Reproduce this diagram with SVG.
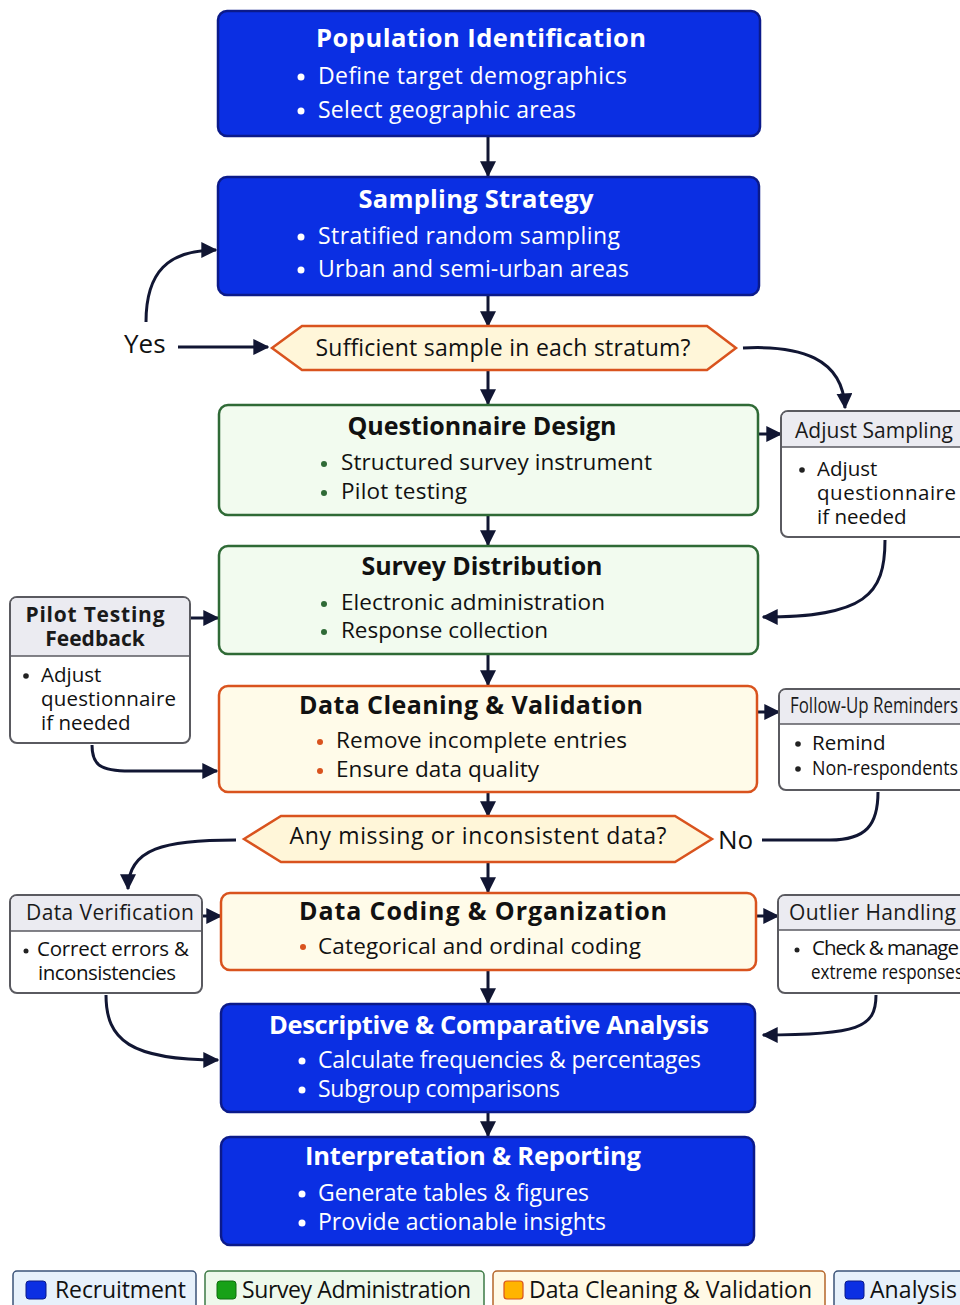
<svg xmlns="http://www.w3.org/2000/svg" width="960" height="1305" viewBox="0 0 960 1305">
  <defs>
    <style>
      text { font-family: "Open Sans", "Noto Sans", "Liberation Sans", sans-serif; }
      .blue { fill: #0b2fe3; stroke: #0b1a8a; stroke-width: 2.5; }
      .green { fill: #f2fbef; stroke: #2f6a36; stroke-width: 2.5; }
      .cream { fill: #fffbe9; stroke: #d9531e; stroke-width: 2.5; }
      .dec { fill: #fff6d9; stroke: #d9531e; stroke-width: 2.5; }
      .side { fill: #ffffff; stroke: #5a5a60; stroke-width: 2; }
      .sidehead { fill: #ebebf1; }
      .sep { stroke: #5a5a60; stroke-width: 1.5; }
      .wt { fill: #ffffff; font-size: 25.5px; font-weight: 700; text-anchor: middle; }
      .wb { fill: #ffffff; font-size: 23px; }
      .dt { fill: #111111; font-size: 25px; font-weight: 700; text-anchor: middle; }
      .db { fill: #111111; font-size: 22.5px; }
      .dq { fill: #111111; font-size: 23px; text-anchor: middle; }
      .sh { fill: #1a1a1a; font-size: 21px; }
      .sb { fill: #111111; font-size: 20.5px; }
      .lab { fill: #111111; font-size: 26px; }
      .dotw { fill: #ffffff; }
      .dotg { fill: #2f6a36; }
      .doto { fill: #d9531e; }
      .dotk { fill: #222222; }
      .conn { fill: none; stroke: #111633; stroke-width: 3; }
      .leg { font-size: 23px; fill: #111111; }
    </style>
    <marker id="ah" viewBox="0 0 12 12" refX="11" refY="6" markerWidth="16" markerHeight="16" markerUnits="userSpaceOnUse" orient="auto">
      <path d="M0,0 L12,6 L0,12 z" fill="#111633"/>
    </marker>
  </defs>

  <rect width="960" height="1305" fill="#ffffff"/>

  <!-- connectors -->
  <g id="connectors">
    <line class="conn" x1="488" y1="136" x2="488" y2="176" marker-end="url(#ah)"/>
    <line class="conn" x1="488" y1="295" x2="488" y2="326" marker-end="url(#ah)"/>
    <line class="conn" x1="488" y1="370" x2="488" y2="404" marker-end="url(#ah)"/>
    <line class="conn" x1="488" y1="515" x2="488" y2="545" marker-end="url(#ah)"/>
    <line class="conn" x1="488" y1="654" x2="488" y2="685" marker-end="url(#ah)"/>
    <line class="conn" x1="488" y1="792" x2="488" y2="816" marker-end="url(#ah)"/>
    <line class="conn" x1="488" y1="862" x2="488" y2="892" marker-end="url(#ah)"/>
    <line class="conn" x1="488" y1="970" x2="488" y2="1003" marker-end="url(#ah)"/>
    <line class="conn" x1="488" y1="1112" x2="488" y2="1136" marker-end="url(#ah)"/>
    <!-- Yes branch back to sampling -->
    <line class="conn" x1="178" y1="347" x2="268" y2="347" marker-end="url(#ah)"/>
    <path class="conn" d="M146,322 C146,272 168,250 216,250" marker-end="url(#ah)"/>
    <!-- to Adjust Sampling -->
    <path class="conn" d="M743,348 C800,345 843,358 845,408" marker-end="url(#ah)"/>
    <line class="conn" x1="758" y1="434" x2="781" y2="434" marker-end="url(#ah)"/>
    <path class="conn" d="M885,540 C885,595 865,617 763,617" marker-end="url(#ah)"/>
    <!-- Pilot Testing Feedback -->
    <line class="conn" x1="190" y1="618" x2="218" y2="618" marker-end="url(#ah)"/>
    <path class="conn" d="M92,745 C92,765 100,771 130,771 L217,771" marker-end="url(#ah)"/>
    <!-- Follow-Up Reminders -->
    <line class="conn" x1="757" y1="712" x2="779" y2="712" marker-end="url(#ah)"/>
    <path class="conn" d="M762,840 L830,840 C866,840 878,825 878,792"/>
    <!-- Data Verification -->
    <path class="conn" d="M236,840 C165,840 128,848 128,889" marker-end="url(#ah)"/>
    <line class="conn" x1="202" y1="916" x2="221" y2="916" marker-end="url(#ah)"/>
    <path class="conn" d="M106,995 C106,1040 130,1060 218,1060" marker-end="url(#ah)"/>
    <!-- Outlier Handling -->
    <line class="conn" x1="756" y1="916" x2="778" y2="916" marker-end="url(#ah)"/>
    <path class="conn" d="M876,995 C876,1028 858,1035 763,1035" marker-end="url(#ah)"/>
  </g>

  <!-- main flow -->
  <g id="population">
    <rect class="blue" x="218" y="11" width="542" height="125" rx="9"/>
    <text class="wt" x="481" y="47" textLength="330">Population Identification</text>
    <circle class="dotw" cx="301" cy="77" r="3.5"/>
    <text class="wb" x="318" y="84" textLength="309">Define target demographics</text>
    <circle class="dotw" cx="301" cy="111" r="3.5"/>
    <text class="wb" x="318" y="118" textLength="258">Select geographic areas</text>
  </g>

  <g id="sampling">
    <rect class="blue" x="218" y="177" width="541" height="118" rx="9"/>
    <text class="wt" x="476" y="208" textLength="235">Sampling Strategy</text>
    <circle class="dotw" cx="301" cy="237" r="3.5"/>
    <text class="wb" x="318" y="244" textLength="302">Stratified random sampling</text>
    <circle class="dotw" cx="301" cy="270" r="3.5"/>
    <text class="wb" x="318" y="277" textLength="311">Urban and semi-urban areas</text>
  </g>

  <g id="decision-sample">
    <polygon class="dec" points="272,348 302,326 707,326 736,348 707,370 302,370"/>
    <text class="dq" x="503" y="356" textLength="375">Sufficient sample in each stratum?</text>
    <text class="lab" x="124" y="353">Yes</text>
  </g>

  <g id="questionnaire">
    <rect class="green" x="219" y="405" width="539" height="110" rx="9"/>
    <text class="dt" x="482" y="435" textLength="269">Questionnaire Design</text>
    <circle class="dotg" cx="324" cy="464" r="3"/>
    <text class="db" x="341" y="470" textLength="311">Structured survey instrument</text>
    <circle class="dotg" cx="324" cy="493" r="3"/>
    <text class="db" x="341" y="499" textLength="126">Pilot testing</text>
  </g>

  <g id="distribution">
    <rect class="green" x="219" y="546" width="539" height="108" rx="9"/>
    <text class="dt" x="482" y="575" textLength="241">Survey Distribution</text>
    <circle class="dotg" cx="324" cy="604" r="3"/>
    <text class="db" x="341" y="610" textLength="264">Electronic administration</text>
    <circle class="dotg" cx="324" cy="632" r="3"/>
    <text class="db" x="341" y="638" textLength="207">Response collection</text>
  </g>

  <g id="cleaning">
    <rect class="cream" x="219" y="686" width="538" height="106" rx="9"/>
    <text class="dt" x="471" y="714" textLength="344">Data Cleaning &amp; Validation</text>
    <circle class="doto" cx="320" cy="742" r="3"/>
    <text class="db" x="336" y="748" textLength="291">Remove incomplete entries</text>
    <circle class="doto" cx="320" cy="771" r="3"/>
    <text class="db" x="336" y="777" textLength="203">Ensure data quality</text>
  </g>

  <g id="decision-missing">
    <polygon class="dec" points="244,839 281,816 675,816 712,839 675,862 281,862"/>
    <text class="dq" x="478" y="844" textLength="377">Any missing or inconsistent data?</text>
    <text class="lab" x="718" y="849">No</text>
  </g>

  <g id="coding">
    <rect class="cream" x="221" y="893" width="535" height="77" rx="9"/>
    <text class="dt" x="483" y="920" textLength="368">Data Coding &amp; Organization</text>
    <circle class="doto" cx="303" cy="947" r="3"/>
    <text class="db" x="318" y="954" textLength="323">Categorical and ordinal coding</text>
  </g>

  <g id="analysis">
    <rect class="blue" x="221" y="1004" width="534" height="108" rx="9"/>
    <text class="wt" x="489" y="1034" textLength="440">Descriptive &amp; Comparative Analysis</text>
    <circle class="dotw" cx="302" cy="1061" r="3.5"/>
    <text class="wb" x="318" y="1068" textLength="383">Calculate frequencies &amp; percentages</text>
    <circle class="dotw" cx="302" cy="1090" r="3.5"/>
    <text class="wb" x="318" y="1097" textLength="242">Subgroup comparisons</text>
  </g>

  <g id="reporting">
    <rect class="blue" x="221" y="1137" width="533" height="108" rx="9"/>
    <text class="wt" x="473" y="1165" textLength="336">Interpretation &amp; Reporting</text>
    <circle class="dotw" cx="302" cy="1194" r="3.5"/>
    <text class="wb" x="318" y="1201" textLength="271">Generate tables &amp; figures</text>
    <circle class="dotw" cx="302" cy="1223" r="3.5"/>
    <text class="wb" x="318" y="1230" textLength="288">Provide actionable insights</text>
  </g>

  <!-- side notes -->
  <g id="adjust-sampling">
    <rect class="side" x="781" y="411" width="200" height="126" rx="7"/>
    <path class="sidehead" d="M782,447 L782,418 Q782,412 788,412 L980,412 L980,447 z"/>
    <line class="sep" x1="781" y1="447" x2="981" y2="447"/>
    <text class="sh" x="795" y="438" textLength="158">Adjust Sampling</text>
    <circle class="dotk" cx="802" cy="470" r="2.8"/>
    <text class="sb" x="817" y="476">Adjust</text>
    <text class="sb" x="817" y="500" textLength="139">questionnaire</text>
    <text class="sb" x="817" y="524">if needed</text>
  </g>

  <g id="pilot-feedback">
    <rect class="side" x="10" y="597" width="180" height="146" rx="7"/>
    <path class="sidehead" d="M11,656 L11,604 Q11,598 17,598 L183,598 Q189,598 189,604 L189,656 z"/>
    <line class="sep" x1="10" y1="656" x2="190" y2="656"/>
    <text class="sh" x="95" y="622" font-size="21.5" font-weight="700" text-anchor="middle" textLength="139">Pilot Testing</text>
    <text class="sh" x="95" y="646" font-size="21.5" font-weight="700" text-anchor="middle">Feedback</text>
    <circle class="dotk" cx="26" cy="676" r="2.8"/>
    <text class="sb" x="41" y="682">Adjust</text>
    <text class="sb" x="41" y="706" textLength="135">questionnaire</text>
    <text class="sb" x="41" y="730">if needed</text>
  </g>

  <g id="follow-up">
    <rect class="side" x="779" y="689" width="200" height="101" rx="7"/>
    <path class="sidehead" d="M780,724 L780,696 Q780,690 786,690 L978,690 L978,724 z"/>
    <line class="sep" x1="779" y1="724" x2="979" y2="724"/>
    <text class="sh" x="790" y="713" font-size="19" textLength="168" lengthAdjust="spacingAndGlyphs">Follow-Up Reminders</text>
    <circle class="dotk" cx="798" cy="744" r="2.8"/>
    <text class="sb" x="812" y="750" font-size="20">Remind</text>
    <circle class="dotk" cx="798" cy="769" r="2.8"/>
    <text class="sb" x="812" y="775" font-size="20" textLength="146" lengthAdjust="spacingAndGlyphs">Non-respondents</text>
  </g>

  <g id="verification">
    <rect class="side" x="10" y="895" width="192" height="98" rx="7"/>
    <path class="sidehead" d="M11,931 L11,902 Q11,896 17,896 L195,896 Q201,896 201,902 L201,931 z"/>
    <line class="sep" x1="10" y1="931" x2="202" y2="931"/>
    <text class="sh" x="26" y="920" textLength="168">Data Verification</text>
    <circle class="dotk" cx="26" cy="951" r="2.5"/>
    <text class="sb" x="37" y="956" font-size="18.5" textLength="152">Correct errors &amp;</text>
    <text class="sb" x="38" y="980" font-size="18.5" textLength="138">inconsistencies</text>
  </g>

  <g id="outlier">
    <rect class="side" x="778" y="895" width="200" height="98" rx="7"/>
    <path class="sidehead" d="M779,930 L779,902 Q779,896 785,896 L977,896 L977,930 z"/>
    <line class="sep" x1="778" y1="930" x2="978" y2="930"/>
    <text class="sh" x="789" y="920" textLength="167">Outlier Handling</text>
    <circle class="dotk" cx="797" cy="950" r="2.5"/>
    <text class="sb" x="812" y="955" font-size="18.5" textLength="147">Check &amp; manage</text>
    <text class="sb" x="811" y="979" font-size="18" textLength="152" lengthAdjust="spacingAndGlyphs">extreme responses</text>
  </g>

  <!-- legend -->
  <g id="legend">
    <rect x="13" y="1271" width="183" height="40" rx="4" fill="#e7f1fb" stroke="#3b5378" stroke-width="1.5"/>
    <rect x="26" y="1281" width="20" height="18" rx="3" fill="#0b2fe3" stroke="#0b1a8a" stroke-width="1"/>
    <text class="leg" x="55" y="1298" textLength="131">Recruitment</text>

    <rect x="205" y="1271" width="279" height="40" rx="4" fill="#eef9ec" stroke="#3d7a45" stroke-width="1.5"/>
    <rect x="217" y="1281" width="19" height="18" rx="3" fill="#17a117" stroke="#0f6e0f" stroke-width="1"/>
    <text class="leg" x="242" y="1298" textLength="229">Survey Administration</text>

    <rect x="493" y="1271" width="332" height="40" rx="4" fill="#fff9e6" stroke="#b5652a" stroke-width="1.5"/>
    <rect x="504" y="1281" width="19" height="18" rx="3" fill="#ffb400" stroke="#d9531e" stroke-width="1.2"/>
    <text class="leg" x="529" y="1298" textLength="283">Data Cleaning &amp; Validation</text>

    <rect x="834" y="1271" width="140" height="40" rx="4" fill="#e7f1fb" stroke="#3b5378" stroke-width="1.5"/>
    <rect x="845" y="1281" width="19" height="18" rx="3" fill="#0b2fe3" stroke="#0b1a8a" stroke-width="1"/>
    <text class="leg" x="870" y="1298" textLength="87">Analysis</text>
  </g>
</svg>
